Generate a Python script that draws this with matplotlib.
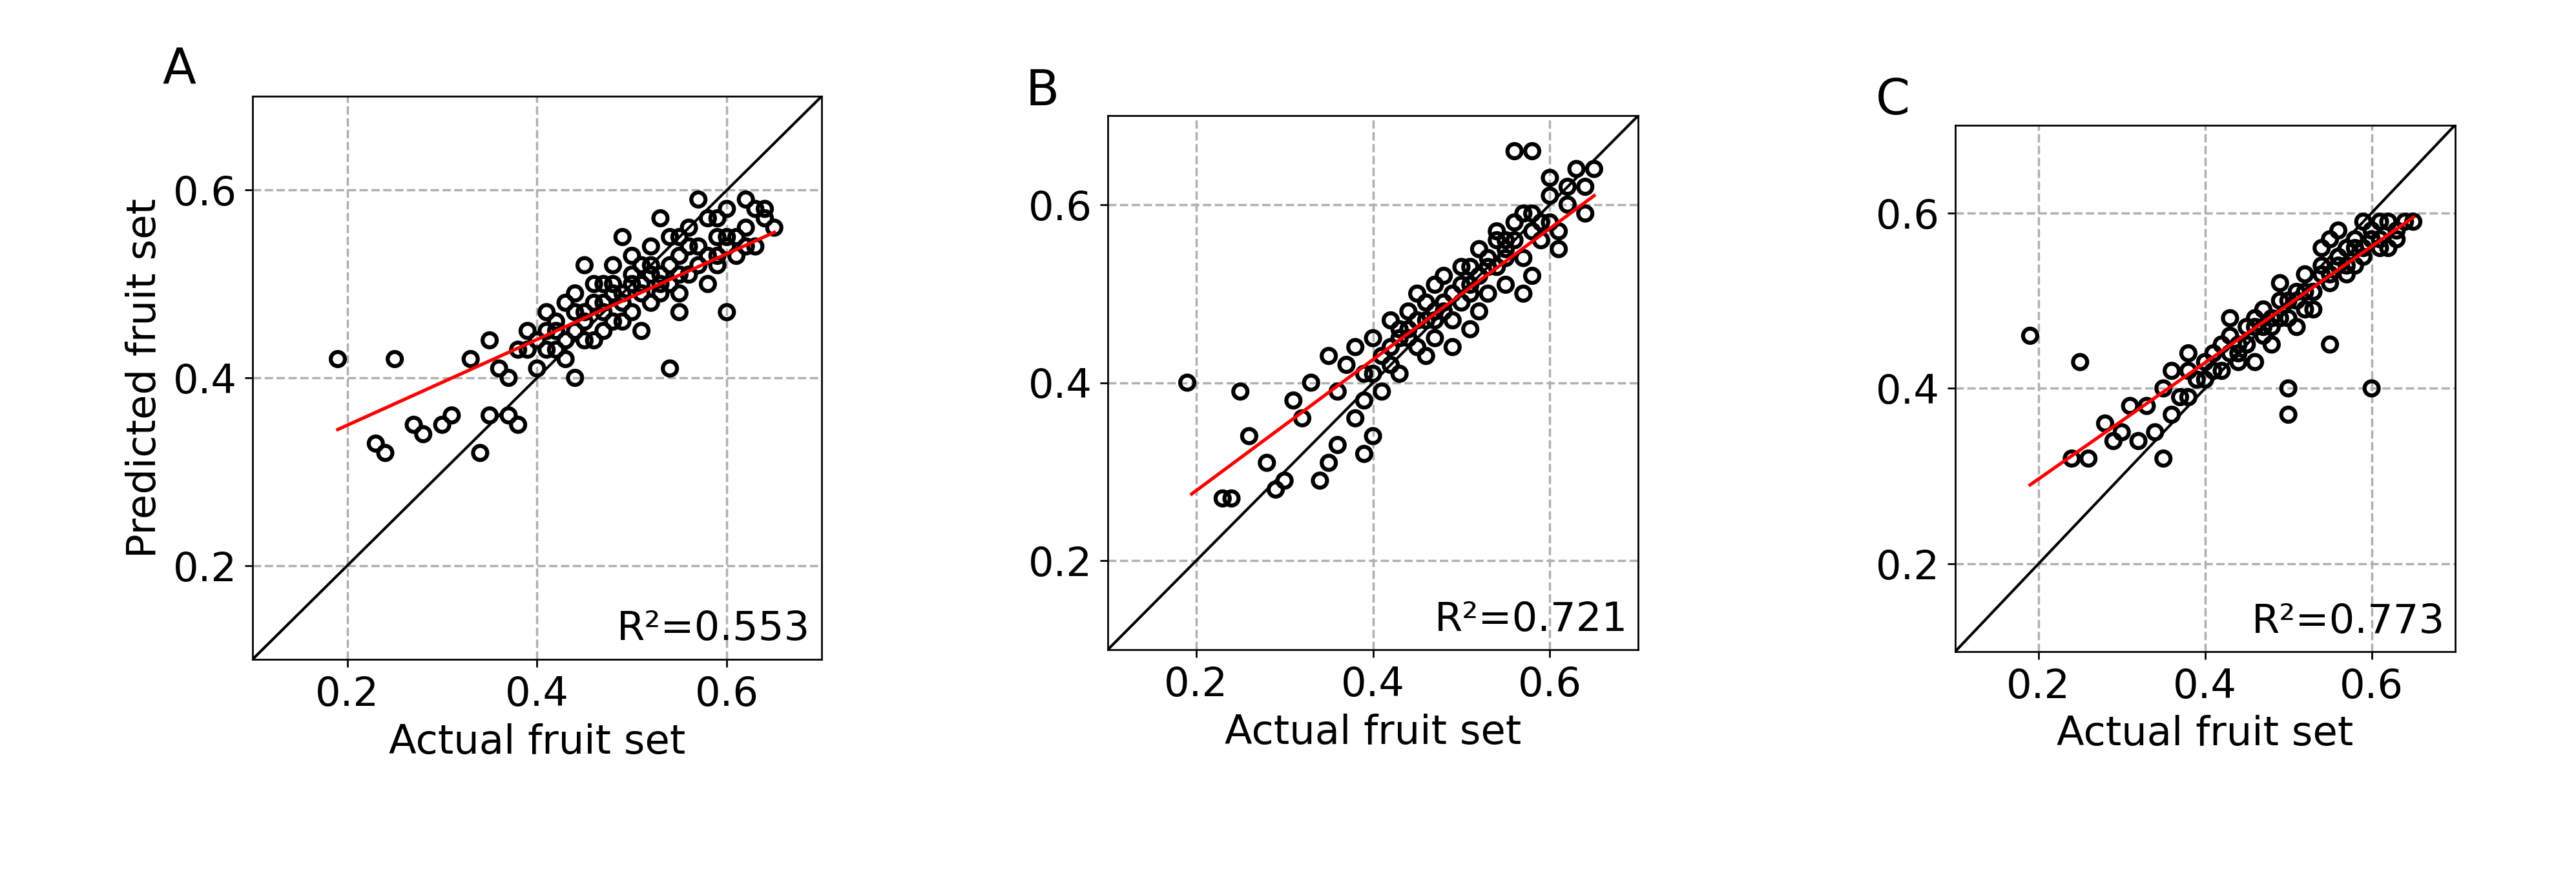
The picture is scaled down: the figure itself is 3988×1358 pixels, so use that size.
import matplotlib.pyplot as plt

# Panel A
A_X = [0.19, 0.23, 0.24, 0.25, 0.27, 0.28, 0.30, 0.31, 0.34, 0.35, 0.37, 0.38, 0.54, 0.60, 0.44,
       0.33, 0.35, 0.36, 0.38, 0.39, 0.40, 0.41, 0.42, 0.42, 0.43, 0.44, 0.44, 0.45, 0.46, 0.46,
       0.47, 0.48, 0.48, 0.49, 0.50, 0.50, 0.51, 0.52, 0.52, 0.53, 0.54, 0.55, 0.55, 0.56, 0.57,
       0.58, 0.58, 0.59, 0.60, 0.61, 0.62, 0.63, 0.64, 0.65, 0.40, 0.43, 0.47, 0.51, 0.55, 0.59,
       0.62, 0.45, 0.49, 0.53, 0.57, 0.41, 0.44, 0.48, 0.52, 0.56, 0.60, 0.63, 0.37, 0.50, 0.54,
       0.42, 0.45, 0.47, 0.49, 0.51, 0.53, 0.55, 0.57, 0.59, 0.61, 0.46, 0.48, 0.50, 0.52, 0.54,
       0.56, 0.58, 0.60, 0.62, 0.64, 0.43, 0.47, 0.51, 0.55, 0.59, 0.39, 0.41, 0.45, 0.49, 0.53]
A_Y = [0.42, 0.33, 0.32, 0.42, 0.35, 0.34, 0.35, 0.36, 0.32, 0.36, 0.36, 0.35, 0.41, 0.47, 0.40,
       0.42, 0.44, 0.41, 0.43, 0.45, 0.44, 0.47, 0.43, 0.46, 0.48, 0.45, 0.49, 0.47, 0.44, 0.50,
       0.48, 0.46, 0.52, 0.49, 0.47, 0.53, 0.50, 0.48, 0.54, 0.51, 0.55, 0.49, 0.53, 0.56, 0.52,
       0.57, 0.50, 0.55, 0.58, 0.53, 0.56, 0.58, 0.57, 0.56, 0.41, 0.42, 0.45, 0.45, 0.47, 0.52,
       0.59, 0.52, 0.55, 0.57, 0.59, 0.43, 0.47, 0.50, 0.52, 0.54, 0.55, 0.54, 0.40, 0.51, 0.50,
       0.45, 0.46, 0.47, 0.48, 0.49, 0.50, 0.51, 0.54, 0.53, 0.55, 0.48, 0.49, 0.50, 0.51, 0.52,
       0.51, 0.53, 0.54, 0.54, 0.58, 0.44, 0.50, 0.52, 0.55, 0.57, 0.43, 0.45, 0.44, 0.46, 0.49]

# Panel B
B_X = [0.19, 0.23, 0.24, 0.25, 0.26, 0.28, 0.29, 0.30, 0.32, 0.34, 0.35, 0.36, 0.38, 0.39, 0.40,
       0.31, 0.33, 0.35, 0.36, 0.37, 0.38, 0.39, 0.40, 0.41, 0.42, 0.42, 0.43, 0.44, 0.45, 0.45,
       0.46, 0.47, 0.47, 0.48, 0.49, 0.50, 0.50, 0.51, 0.52, 0.52, 0.53, 0.54, 0.55, 0.55, 0.56,
       0.57, 0.58, 0.58, 0.59, 0.60, 0.61, 0.62, 0.63, 0.64, 0.65, 0.56, 0.58, 0.60, 0.44, 0.48,
       0.53, 0.41, 0.46, 0.51, 0.54, 0.57, 0.61, 0.64, 0.43, 0.49,
       0.40, 0.42, 0.44, 0.46, 0.48, 0.50, 0.52, 0.54, 0.56, 0.58, 0.60, 0.62, 0.45, 0.47,
       0.49, 0.51, 0.53, 0.55, 0.57, 0.59, 0.39, 0.43, 0.47, 0.51, 0.55]
B_Y = [0.40, 0.27, 0.27, 0.39, 0.34, 0.31, 0.28, 0.29, 0.36, 0.29, 0.31, 0.33, 0.36, 0.32, 0.34,
       0.38, 0.40, 0.43, 0.39, 0.42, 0.44, 0.41, 0.45, 0.43, 0.47, 0.42, 0.45, 0.48, 0.44, 0.50,
       0.47, 0.45, 0.51, 0.49, 0.47, 0.53, 0.49, 0.51, 0.55, 0.48, 0.53, 0.57, 0.51, 0.55, 0.58,
       0.54, 0.59, 0.52, 0.56, 0.61, 0.57, 0.60, 0.64, 0.62, 0.64, 0.66, 0.66, 0.63, 0.46, 0.52,
       0.50, 0.39, 0.43, 0.46, 0.53, 0.50, 0.55, 0.59, 0.41, 0.44,
       0.41, 0.44, 0.45, 0.49, 0.48, 0.51, 0.52, 0.56, 0.56, 0.57, 0.58, 0.62, 0.47, 0.48,
       0.50, 0.53, 0.54, 0.54, 0.59, 0.58, 0.38, 0.46, 0.47, 0.50, 0.56]

# Panel C
C_X = [0.19, 0.25, 0.24, 0.26, 0.28, 0.29, 0.30, 0.32, 0.34, 0.35, 0.36, 0.60, 0.55, 0.50, 0.50,
       0.31, 0.33, 0.35, 0.36, 0.37, 0.38, 0.39, 0.40, 0.41, 0.42, 0.42, 0.43, 0.44, 0.45, 0.45,
       0.46, 0.47, 0.47, 0.48, 0.49, 0.50, 0.51, 0.52, 0.52, 0.53, 0.54, 0.55, 0.56, 0.57, 0.58,
       0.58, 0.59, 0.60, 0.61, 0.62, 0.63, 0.64, 0.65, 0.40, 0.44, 0.48, 0.53, 0.57, 0.61, 0.38,
       0.46, 0.51, 0.55, 0.59, 0.43, 0.49, 0.54, 0.56, 0.62, 0.38,
       0.41, 0.43, 0.45, 0.47, 0.49, 0.51, 0.53, 0.55, 0.57, 0.59, 0.61, 0.63, 0.44, 0.46,
       0.48, 0.50, 0.52, 0.54, 0.56, 0.58, 0.60]
C_Y = [0.46, 0.43, 0.32, 0.32, 0.36, 0.34, 0.35, 0.34, 0.35, 0.32, 0.37, 0.40, 0.45, 0.40, 0.37,
       0.38, 0.38, 0.40, 0.42, 0.39, 0.42, 0.41, 0.43, 0.44, 0.45, 0.42, 0.46, 0.44, 0.47, 0.45,
       0.48, 0.46, 0.49, 0.47, 0.50, 0.48, 0.51, 0.49, 0.53, 0.51, 0.54, 0.52, 0.55, 0.56, 0.54,
       0.57, 0.56, 0.58, 0.57, 0.59, 0.58, 0.59, 0.59, 0.41, 0.43, 0.45, 0.49, 0.53, 0.59, 0.44,
       0.43, 0.47, 0.57, 0.59, 0.48, 0.52, 0.56, 0.58, 0.56, 0.39,
       0.42, 0.44, 0.45, 0.47, 0.48, 0.50, 0.51, 0.53, 0.54, 0.55, 0.56, 0.57, 0.45, 0.47,
       0.48, 0.50, 0.51, 0.53, 0.54, 0.56, 0.57]

# Fitted regression lines (endpoints)
FIT_X = [[0.19, 0.65], [0.195, 0.65], [0.19, 0.65]]
FIT_Y = [[0.345, 0.555], [0.275, 0.61], [0.29, 0.595]]

R2 = ["0.553", "0.721", "0.773"]
LABELS = ["A", "B", "C"]
TICKS = [0.2, 0.4, 0.6]

plt.rcParams["font.family"] = "DejaVu Sans"
plt.rcParams["font.size"] = 18

fig = plt.figure(figsize=(16, 5.45), dpi=249.25)
rects = [[0.098, 0.248, 0.221, 0.642],
         [0.430, 0.259, 0.206, 0.609],
         [0.759, 0.257, 0.194, 0.600]]
label_pos = [(0.063, 0.905), (0.398, 0.88), (0.728, 0.87)]
data = [(A_X, A_Y), (B_X, B_Y), (C_X, C_Y)]

for i, (rect, (xs, ys)) in enumerate(zip(rects, data)):
    ax = fig.add_axes(rect)
    ax.set_xlim(0.1, 0.7)
    ax.set_ylim(0.1, 0.7)
    ax.set_xticks(TICKS)
    ax.set_yticks(TICKS)
    ax.grid(True, ls="--", color="#b0b0b0", lw=1)
    ax.set_axisbelow(True)
    ax.plot([0.1, 0.7], [0.1, 0.7], color="black", lw=1.2)
    ax.scatter(xs, ys, s=40, facecolors="none", edgecolors="black", linewidths=1.8, zorder=3)
    ax.plot(FIT_X[i], FIT_Y[i], color="red", lw=1.5, zorder=4)
    ax.text(0.98, 0.02, f"R²={R2[i]}", transform=ax.transAxes, ha="right", va="bottom")
    ax.set_xlabel("Actual fruit set")
    if i == 0:
        ax.set_ylabel("Predicted fruit set")
    fig.text(*label_pos[i], LABELS[i], fontsize=22)

fig.savefig("out.png")
